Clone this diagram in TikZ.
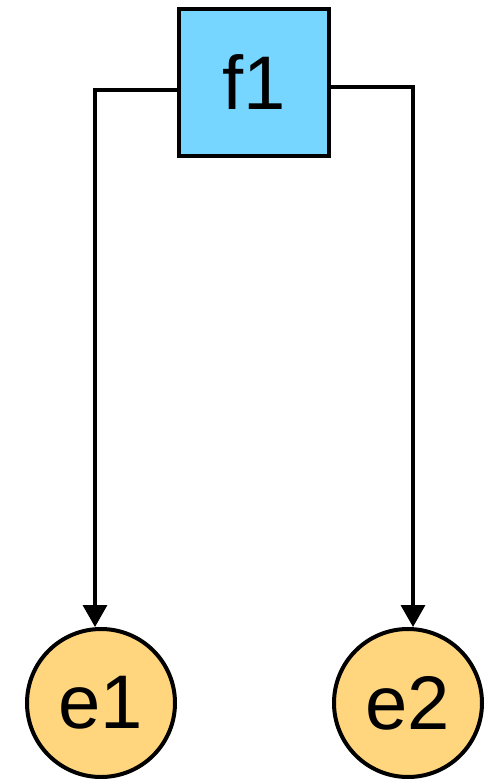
\documentclass[tikz,border=0pt]{standalone}
\usepackage{fontspec}
\setmainfont{Liberation Sans}
\usepackage{xcolor}
\usepackage{tikz}
\usetikzlibrary{arrows.meta, positioning}
\definecolor{funcblue}{HTML}{76D6FF}
\definecolor{entyellow}{HTML}{FFD57E}
\tikzset{
  funcnode/.style={rectangle,draw=black,line width=4pt,fill=funcblue,minimum width=150pt,minimum height=147pt,inner sep=0pt,font=\fontsize{76}{80}\selectfont},
  entnode/.style={circle,draw=black,line width=4pt,fill=entyellow,minimum size=148pt,inner sep=0pt,font=\fontsize{76}{80}\selectfont},
  link/.style={-{Triangle[length=22pt 0,width=24pt 0]},line width=3.5pt,black},
}

\begin{document}
\begin{tikzpicture}[x=1pt,y=-1pt]
  \useasboundingbox (0,0) rectangle (498,779);
  \node[funcnode] (f1) at (254.00,82.00) {f1};
  \node[entnode] (e1) at (101.00,703.00) {e1};
  \node[entnode] (e2) at (408.00,703.00) {e2};
  \coordinate (cL) at (95.00,90.00);
  \coordinate (cR) at (413.00,87.00);
  \draw[link] (f1.west |- cL) -- (cL) -- (cL |- e1.north);
  \draw[link] (f1.east |- cR) -- (cR) -- (cR |- e2.north);
\end{tikzpicture}
\end{document}
